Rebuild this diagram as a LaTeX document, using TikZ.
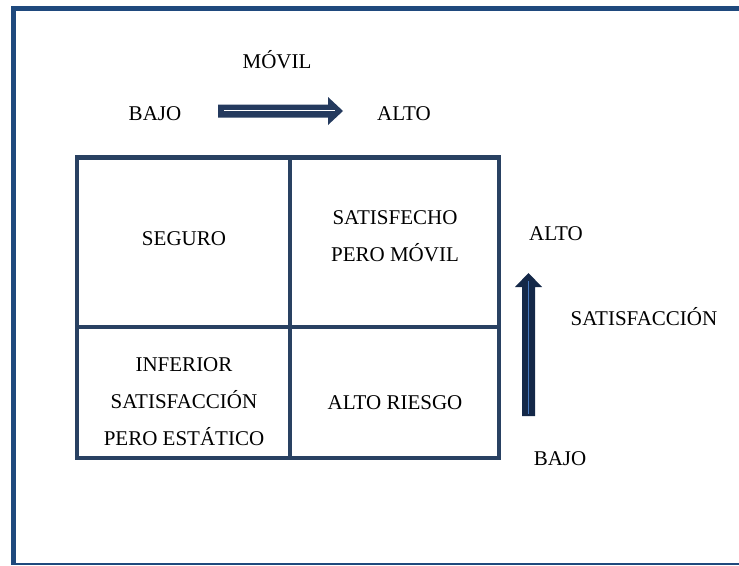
\documentclass[tikz,border=0pt]{standalone}
\usepackage{fontspec}
\setmainfont{Liberation Serif}
\usetikzlibrary{calc}
\definecolor{framecol}{RGB}{31,73,125}
\definecolor{gridcol}{RGB}{41,65,98}
\definecolor{harrowcol}{RGB}{36,58,94}
\definecolor{varrowcol}{RGB}{20,40,72}
\definecolor{varrowline}{RGB}{70,120,190}
\begin{document}
\begin{tikzpicture}[x=1pt, y=-1pt,
		lbl/.style={font=\fontsize{21}{37}\selectfont, inner sep=0pt},
		cellbox/.style={gridcol, line width=4.5pt}]
		\useasboundingbox (0,0) rectangle (739,565);
		% Frame
		\draw[framecol, line width=5pt] (739,8.5) -- (13.5,8.5) -- (13.5,565);
		\draw[framecol, line width=2pt] (13.5,564) -- (739,564);
		% Grid
		\draw[cellbox] (77,157.5) rectangle (499,458);
		\draw[cellbox] (290,157.5) -- (290,458);
		\draw[cellbox] (77,327) -- (499,327);
		% Cells
		\node[lbl, anchor=base] (seguro) at (184,245) {SEGURO};
		\node[lbl, align=center] (satisfecho) at (395,236.5) {SATISFECHO\\PERO MÓVIL};
		\node[lbl, align=center] (inferior) at (184,402) {INFERIOR\\SATISFACCIÓN\\PERO ESTÁTICO};
		\node[lbl, anchor=base] (riesgo) at (395,409) {ALTO RIESGO};
		% Top axis
		\node[lbl, anchor=base] (movil) at (277,68) {MÓVIL};
		\node[lbl, anchor=base] (bajoH) at (155,120) {BAJO};
		\node[lbl, anchor=base] (altoH) at (404,120) {ALTO};
		\coordinate (htail) at (218,111);
		\coordinate (htip) at (343,111);
		\fill[harrowcol] ($(htail)+(0,-6.5)$) -- ($(htip)+(-15,-6.5)$) -- ($(htip)+(-15,-14)$) -- (htip)
			-- ($(htip)+(-15,14)$) -- ($(htip)+(-15,6.5)$) -- ($(htail)+(0,6.5)$) -- cycle;
		\draw[white, line width=1.5pt] ($(htail)+(6,-0.5)$) -- ($(htip)+(-8,-0.5)$);
		% Right axis
		\node[lbl, anchor=base] (altoV) at (556,240) {ALTO};
		\node[lbl, anchor=base] (satisf) at (644,325) {SATISFACCIÓN};
		\node[lbl, anchor=base] (bajoV) at (560,465) {BAJO};
		\coordinate (vtail) at (528.5,416);
		\coordinate (vtip) at (528.5,273);
		\fill[varrowcol] ($(vtail)+(-6.5,0)$) -- ($(vtip)+(-6.5,14)$) -- ($(vtip)+(-13.5,14)$) -- (vtip)
			-- ($(vtip)+(13.5,14)$) -- ($(vtip)+(6.5,14)$) -- ($(vtail)+(6.5,0)$) -- cycle;
		\draw[varrowline, line width=1.5pt] ($(vtail)+(0,-2)$) -- ($(vtip)+(0,8)$);
	\end{tikzpicture}
\end{document}
